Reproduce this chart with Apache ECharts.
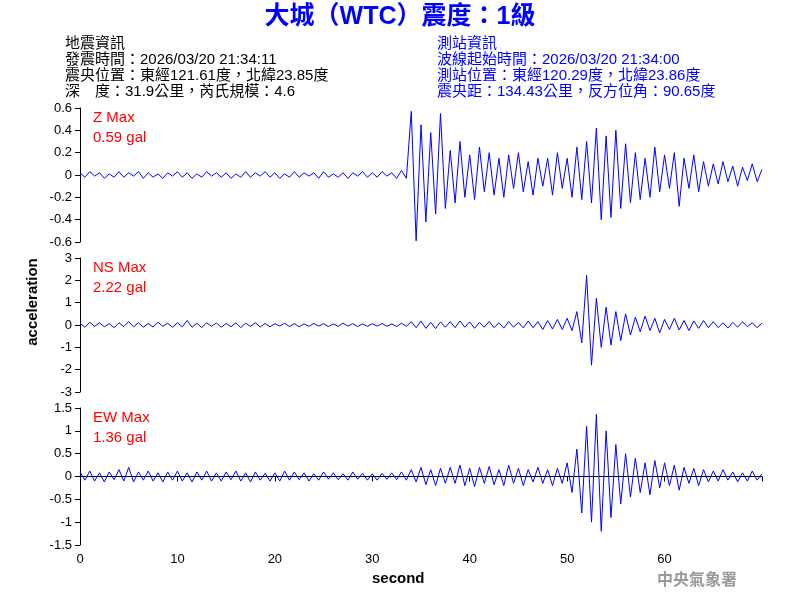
<!DOCTYPE html>
<html lang="zh-Hant">
<head>
<meta charset="UTF-8">
<title>大城 (WTC) 震度</title>
<style>html,body{margin:0;background:#fff}#main{width:800px;height:600px}</style>
</head>
<body>
<div id="main"></div>
<script src="https://cdn.jsdelivr.net/npm/echarts@6/dist/echarts.min.js"></script>
<script>
// 取樣間隔 0.5 秒
var dt = 0.5;
var zData = [0.02,-0.02,0.03,-0.01,0.02,-0.03,0.01,-0.02,0.03,-0.02,0.02,-0.01,0.03,-0.03,0.02,-0.02,0.01,-0.03,0.02,-0.01,
  0.03,-0.02,0.02,-0.03,0.01,-0.02,0.03,-0.01,0.02,-0.02,0.02,-0.03,0.01,-0.02,0.03,-0.02,0.02,-0.01,0.03,-0.02,
  0.02,-0.03,0.01,-0.02,0.03,-0.02,0.02,-0.01,0.02,-0.03,0.03,-0.02,0.01,-0.02,0.02,-0.03,0.02,-0.01,0.03,-0.02,
  0.02,-0.02,0.03,-0.01,0.02,-0.03,0.04,-0.03,
  0.57,-0.59,0.45,-0.42,0.38,-0.35,0.55,-0.3,
  0.22,-0.25,0.3,-0.2,0.18,-0.22,0.25,-0.15,0.2,-0.18,0.15,-0.2,0.18,-0.12,0.2,-0.15,0.12,-0.18,0.15,-0.1,
  0.15,-0.18,0.2,-0.12,0.15,-0.2,0.25,-0.22,0.3,-0.25,
  0.42,-0.4,0.35,-0.38,0.4,-0.3,0.28,-0.25,
  0.2,-0.22,0.15,-0.2,0.25,-0.15,0.18,-0.12,0.2,-0.28,0.15,-0.12,0.18,-0.15,0.12,-0.1,
  0.1,-0.08,0.12,-0.06,0.08,-0.1,0.07,-0.05,0.1,-0.06,0.05];
var nsData = [0.08,-0.1,0.12,-0.06,0.1,-0.08,0.06,-0.12,0.1,-0.07,0.15,-0.08,0.1,-0.1,0.07,-0.09,0.12,-0.06,0.08,-0.1,
  0.1,-0.08,0.2,-0.1,0.08,-0.12,0.1,-0.06,0.09,-0.1,0.07,-0.08,0.1,-0.12,0.08,-0.06,0.1,-0.09,0.07,-0.08,
  0.06,-0.05,0.08,-0.07,0.06,-0.08,0.05,-0.06,0.07,-0.05,0.06,-0.07,0.05,-0.06,0.08,-0.05,0.06,-0.07,0.05,-0.06,
  0.06,-0.05,0.07,-0.06,0.05,-0.07,0.08,-0.06,
  0.15,-0.12,0.18,-0.15,0.12,-0.16,0.14,-0.1,
  0.15,-0.12,0.18,-0.1,0.14,-0.15,0.12,-0.1,0.16,-0.12,0.1,-0.14,0.15,-0.1,0.12,-0.13,0.18,-0.12,0.15,-0.2,
  0.2,-0.18,0.25,-0.2,0.3,-0.25,0.6,-0.8,2.22,-1.8,
  1.2,-1.0,0.8,-0.9,0.6,-0.7,0.5,-0.45,
  0.35,-0.3,0.4,-0.25,0.3,-0.35,0.25,-0.2,0.3,-0.22,0.2,-0.25,0.18,-0.15,0.2,-0.12,
  0.15,-0.12,0.1,-0.14,0.12,-0.1,0.15,-0.08,0.1,-0.12,0.08];
var ewData = [0.1,-0.08,0.12,-0.1,0.08,-0.12,0.1,-0.07,0.15,-0.1,0.2,-0.12,0.1,-0.08,0.12,-0.1,0.08,-0.12,0.1,-0.08,
  0.12,-0.1,0.08,-0.12,0.1,-0.08,0.12,-0.1,0.08,-0.1,0.1,-0.07,0.12,-0.1,0.08,-0.12,0.1,-0.08,0.07,-0.1,
  0.08,-0.1,0.12,-0.08,0.1,-0.07,0.08,-0.1,0.06,-0.08,0.1,-0.06,0.08,-0.07,0.06,-0.08,0.1,-0.06,0.07,-0.08,
  0.06,-0.08,0.07,-0.06,0.08,-0.07,0.1,-0.08,
  0.15,-0.12,0.2,-0.18,0.15,-0.2,0.18,-0.15,
  0.2,-0.15,0.25,-0.2,0.18,-0.22,0.2,-0.15,0.22,-0.18,0.15,-0.2,0.25,-0.15,0.18,-0.2,0.15,-0.12,0.2,-0.15,
  0.15,-0.2,0.18,-0.15,0.3,-0.35,0.6,-0.8,1.1,-1.0,
  1.36,-1.2,1.0,-0.9,0.7,-0.6,0.5,-0.45,
  0.4,-0.35,0.3,-0.4,0.35,-0.25,0.3,-0.2,0.25,-0.3,0.2,-0.15,0.18,-0.2,0.15,-0.12,
  0.12,-0.1,0.15,-0.08,0.1,-0.12,0.08,-0.1,0.12,-0.08,0.06];
var maxLabels = [['Z Max', '0.59 gal'], ['NS Max', '2.22 gal'], ['EW Max', '1.36 gal']];
var yRanges = [[-0.6, 0.6, 0.2], [-3, 3, 1], [-1.5, 1.5, 0.5]];
var leftInfo = ['地震資訊', '發震時間：2026/03/20 21:34:11', '震央位置：東經121.61度，北緯23.85度', '深　度：31.9公里，芮氏規模：4.6'];
var rightInfo = ['測站資訊', '波線起始時間：2026/03/20 21:34:00', '測站位置：東經120.29度，北緯23.86度', '震央距：134.43公里，反方位角：90.65度'];

function pairs(arr) {
    return arr.map(function (v, i) { return [i * dt, v]; });
}

var font = 'Liberation Sans, Arial, sans-serif';
var cjk = 'Liberation Sans, Noto Sans CJK TC, sans-serif';
var tops = [108, 258, 408];
var heights = [134, 134, 137];
var grids = [], xAxes = [], yAxes = [], series = [];
var traces = [zData, nsData, ewData];
traces.forEach(function (d, k) {
    grids.push({left: 80, right: 38, top: tops[k], height: heights[k]});
    xAxes.push({
        type: 'value', gridIndex: k, min: 0, max: 70, interval: 10,
        show: k === 2,
        axisLine: {lineStyle: {color: '#000'}},
        axisTick: {lineStyle: {color: '#000'}, length: 5},
        axisLabel: {color: '#000', fontSize: 13, fontFamily: font,
            formatter: function (v) { return v === 70 ? '' : v; }},
        splitLine: {show: false}
    });
    yAxes.push({
        type: 'value', gridIndex: k, min: yRanges[k][0], max: yRanges[k][1], interval: yRanges[k][2],
        axisLine: {show: true, lineStyle: {color: '#000'}},
        axisTick: {show: true, lineStyle: {color: '#000'}, length: 5},
        axisLabel: {color: '#000', fontSize: 13, fontFamily: font,
            formatter: function (v) { return Math.round(v * 10) / 10; }},
        splitLine: {show: false}
    });
    series.push({
        type: 'line', xAxisIndex: k, yAxisIndex: k, data: pairs(d),
        symbol: 'none', lineStyle: {color: '#0000ff', width: 1}, silent: true, animation: false
    });
});

var graphics = [];
function txt(x, y, s, style) {
    graphics.push({type: 'text', left: x, top: y, style: Object.assign({text: s}, style)});
}
leftInfo.forEach(function (s, i) {
    txt(65, 36 + i * 16, s, {fill: '#000', font: '15px ' + cjk});
});
rightInfo.forEach(function (s, i) {
    txt(437, 36 + i * 16, s, {fill: '#0000ff', font: '15px ' + cjk});
});
maxLabels.forEach(function (m, k) {
    txt(93, tops[k] + 2, m[0], {fill: '#ff0000', font: '15px ' + font});
    txt(93, tops[k] + 22, m[1], {fill: '#ff0000', font: '15px ' + font});
});
graphics.push({type: 'text', left: 'center', top: 5,
    style: {text: '大城（WTC）震度：1級', fill: '#0000ff', font: 'bold 25px ' + cjk}});
graphics.push({type: 'text', left: 372, top: 571,
    style: {text: 'second', fill: '#000', font: 'bold 15px ' + font}});
graphics.push({type: 'text', x: 33, y: 302, rotation: Math.PI / 2,
    style: {text: 'acceleration', fill: '#000', font: 'bold 15px ' + font, align: 'center', verticalAlign: 'middle'}});
graphics.push({type: 'text', left: 657, top: 571,
    style: {text: '中央氣象署', fill: '#999', font: 'bold 16px Noto Sans CJK TC'}});

var chart = echarts.init(document.getElementById('main'));
chart.setOption({
    animation: false,
    grid: grids, xAxis: xAxes, yAxis: yAxes, series: series,
    graphic: graphics
});
</script>
</body>
</html>
